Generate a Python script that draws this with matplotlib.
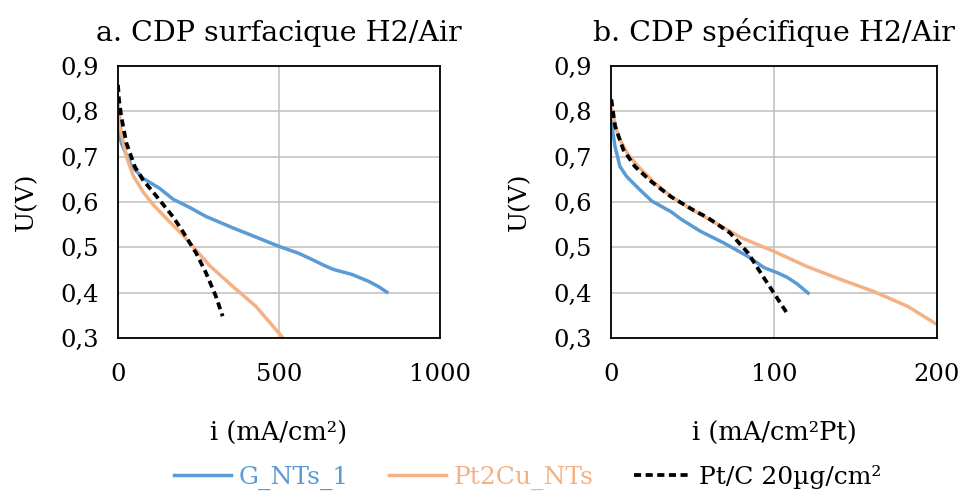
import matplotlib
matplotlib.use("Agg")
import matplotlib.pyplot as plt
from matplotlib.ticker import FuncFormatter
from matplotlib.lines import Line2D

plt.rcParams['font.family'] = ['DejaVu Serif']

# a. surfacique : i (mA/cm2), U (V)
g_a_i = [1, 5, 12, 21, 41, 78, 129, 171, 222, 273, 356, 430, 500, 560, 603, 640, 670, 727, 778, 810, 835]
g_a_u = [0.775, 0.745, 0.727, 0.712, 0.680, 0.652, 0.630, 0.606, 0.588, 0.568, 0.543, 0.522, 0.502,
         0.487, 0.473, 0.460, 0.451, 0.440, 0.425, 0.413, 0.401]
pc_a_i = [1, 3, 10, 26, 47, 78, 109, 155, 200, 232, 284, 356, 428, 479, 508]
pc_a_u = [0.815, 0.804, 0.752, 0.700, 0.658, 0.622, 0.594, 0.560, 0.528, 0.502, 0.460, 0.414, 0.370, 0.328, 0.304]
ref_a_i = [0, 3, 10, 26, 52, 78, 119, 171, 201, 242, 273, 304, 325]
ref_a_u = [0.858, 0.826, 0.789, 0.730, 0.678, 0.648, 0.613, 0.567, 0.535, 0.488, 0.444, 0.392, 0.348]

# b. specifique : i (mA/cm2 Pt), U (V)
g_b_i = [0.2, 2.5, 5.5, 9.6, 16.8, 25, 37, 43, 55, 69, 84, 94, 102, 108, 114, 121]
g_b_u = [0.776, 0.722, 0.678, 0.656, 0.630, 0.602, 0.578, 0.562, 0.535, 0.510, 0.480, 0.455, 0.444,
         0.434, 0.420, 0.399]
pc_b_i = [0.2, 4.5, 10.6, 16.8, 27, 37, 47, 61, 80, 100, 120, 141, 161, 182, 200]
pc_b_u = [0.806, 0.744, 0.704, 0.678, 0.641, 0.612, 0.589, 0.560, 0.521, 0.491, 0.458, 0.429, 0.403, 0.370, 0.330]
ref_b_i = [0.2, 2.5, 7.6, 14.7, 25, 37, 51, 59, 73, 84, 92, 100, 108]
ref_b_u = [0.826, 0.767, 0.715, 0.678, 0.644, 0.611, 0.581, 0.566, 0.532, 0.488, 0.443, 0.399, 0.355]

titles = ["a. CDP surfacique H2/Air", "b. CDP spécifique H2/Air"]
xlabels = ["i (mA/cm²)", "i (mA/cm²Pt)"]
xticks = [[0, 500, 1000], [0, 100, 200]]
labels = ["G_NTs_1", "Pt2Cu_NTs", "Pt/C 20µg/cm²"]

blue = '#5b9bd5'
orange = '#f4b183'
dash = (0, (1.9, 1.2))

fig = plt.figure(figsize=(9.64, 4.91), dpi=100)
ax1 = fig.add_axes([0.1224, 0.3116, 0.334, 0.5544])
ax2 = fig.add_axes([0.6338, 0.3116, 0.338, 0.5544])

data = [(g_a_i, g_a_u, pc_a_i, pc_a_u, ref_a_i, ref_a_u),
        (g_b_i, g_b_u, pc_b_i, pc_b_u, ref_b_i, ref_b_u)]

comma = FuncFormatter(lambda v, p: ('%.1f' % v).replace('.', ','))

for k, ax in enumerate([ax1, ax2]):
    gi, gu, pi, pu, ri, ru = data[k]
    ax.plot(gi, gu, color=blue, lw=2.5)
    ax.plot(pi, pu, color=orange, lw=2.5)
    ax.plot(ri, ru, color='black', lw=2.7, ls=dash)
    ax.set_xlim(xticks[k][0], xticks[k][-1])
    ax.set_ylim(0.3, 0.9)
    ax.set_xticks(xticks[k])
    ax.set_yticks([0.3, 0.4, 0.5, 0.6, 0.7, 0.8, 0.9])
    ax.yaxis.set_major_formatter(comma)
    ax.grid(True, color='#bfbfbf', lw=1.1)
    ax.set_axisbelow(True)
    ax.tick_params(length=0, labelsize=17.5)
    ax.tick_params(axis='x', pad=18)
    ax.tick_params(axis='y', pad=14)
    for s in ax.spines.values():
        s.set_linewidth(1.3)
        s.set_color('black')
    ax.set_title(titles[k], fontsize=20.5, pad=18)
    ax.set_xlabel(xlabels[k], fontsize=18.5, labelpad=25)
    ax.set_ylabel("U(V)", fontsize=18, labelpad=16)

handles = [Line2D([], [], color=blue, lw=2.5),
           Line2D([], [], color=orange, lw=2.5),
           Line2D([], [], color='black', lw=2.7, ls=dash)]
fig.legend(handles, labels, loc='center', bbox_to_anchor=(0.547, 0.027), ncol=3,
           frameon=False, fontsize=18, handlelength=2.3, columnspacing=1.6,
           handletextpad=0.3, labelcolor=[blue, orange, 'black'])

fig.savefig("out.png", dpi=100)
